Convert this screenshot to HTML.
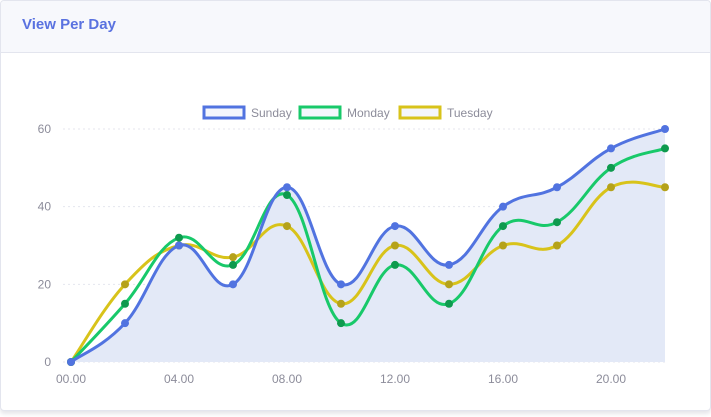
<!DOCTYPE html>
<html><head><meta charset="utf-8"><style>
body{margin:0;background:#fff;font-family:"Liberation Sans",sans-serif;}
.card{position:absolute;left:0;top:0;width:709px;height:409px;border:1px solid #e3e5ee;border-radius:4px;background:#fff;box-shadow:0 3px 4px #e6e6ea;overflow:hidden}
.hdr{height:51px;background:#f7f8fc;border-bottom:1px solid #e3e5ee;}
.hdr span{position:absolute;left:21px;top:15px;font-size:15px;font-weight:bold;color:#5a72e0;}
svg{position:absolute;left:0;top:0}
</style></head><body>
<div class="card">
<div class="hdr"><span>View Per Day</span></div>
</div>
<svg id="c" width="711" height="417"></svg>
<script>
const hours=[0,2,4,6,8,10,12,14,16,18,20,22];
const sunday=[0,10,30,20,45,20,35,25,40,45,55,60];
const monday=[0,15,32,25,43,10,25,15,35,36,50,55];
const tuesday=[0,20,30,27,35,15,30,20,30,30,45,45];
const yTicks=[0,20,40,60];
const xTickLabels=["00.00","04.00","08.00","12.00","16.00","20.00"];
const xTickHours=[0,4,8,12,16,20];
const svg=document.getElementById('c');const NS='http://www.w3.org/2000/svg';
const X=h=>71+h*(594/22), Y=v=>362-v*(233/60);
function el(t,a,p){const e=document.createElementNS(NS,t);for(const k in a)e.setAttribute(k,a[k]);(p||svg).appendChild(e);return e;}
yTicks.forEach(v=>{const l=el('line',{x1:63,x2:665,y1:Y(v),y2:Y(v),stroke:'#e4e6ee','stroke-dasharray':'2,3'});

const t=el('text',{x:51,y:Y(v)+4,'text-anchor':'end','font-size':12,fill:'#8c8c9a'});t.textContent=v;
});
xTickHours.forEach((h,i)=>{const t=el('text',{x:X(h),y:383,'text-anchor':'middle','font-size':12,fill:'#8c8c9a'});t.textContent=xTickLabels[i];
});
function path(vals){const p=vals.map((v,i)=>[X(hours[i]),Y(v)]);let d='M'+p[0];const k=0.2;
for(let i=0;i<p.length-1;i++){const p0=p[i-1]||p[i],p1=p[i],p2=p[i+1],p3=p[i+2]||p2;
d+=' C'+(p1[0]+(p2[0]-p0[0])*k)+','+(p1[1]+(p2[1]-p0[1])*k)+' '+(p2[0]-(p3[0]-p1[0])*k)+','+(p2[1]-(p3[1]-p1[1])*k)+' '+p2;}return d;}
const a=el('path',{d:path(sunday)+' L'+X(22)+','+Y(0)+' L'+X(0)+','+Y(0)+'Z',fill:'#e3e9f7'});

const series=[[tuesday,'#d8c31a','#b5a21a','tuesday'],[monday,'#18c96a','#0e9a4e','monday'],[sunday,'#5173e0','#5173e0','sunday']];
series.forEach(([vals,c,pc,n])=>{const l=el('path',{d:path(vals),fill:'none',stroke:c,'stroke-width':3});

vals.forEach((v,i)=>{const d=el('circle',{cx:X(hours[i]),cy:Y(v),r:4,fill:pc});
});});
const leg=[['Sunday','#5173e0',204],['Monday','#18c96a',300],['Tuesday','#d8c31a',400]];
leg.forEach(([t,c,x])=>{const g=el('g',{});
el('rect',{x:x,y:107,width:40,height:11,fill:'#f4f6fc',stroke:c,'stroke-width':3},g);
const tx=el('text',{x:x+47,y:117,'font-size':12,fill:'#8c8c9a'},g);tx.textContent=t;});
</script>
</body></html>
